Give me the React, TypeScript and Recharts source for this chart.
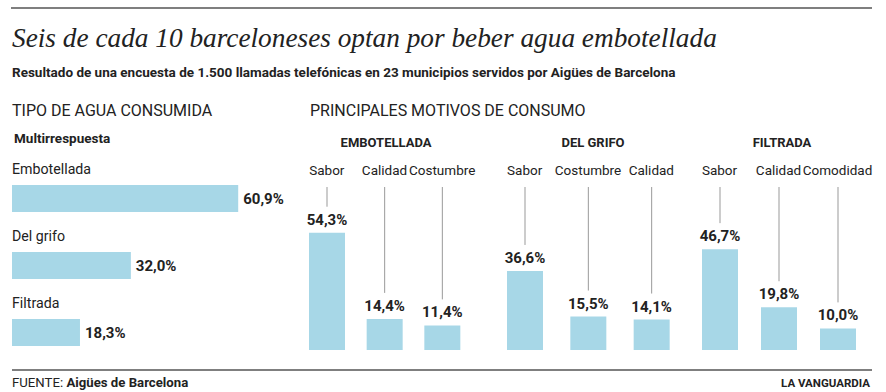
import { BarChart, Bar, XAxis, YAxis, LabelList } from 'recharts'

const TYPE_NAMES = ['Embotellada', 'Del grifo', 'Filtrada']
const TYPE_VALUES = [60.9, 32.0, 18.3]

const GROUP_TITLES = ['EMBOTELLADA', 'DEL GRIFO', 'FILTRADA']

const EMB_REASONS = ['Sabor', 'Calidad', 'Costumbre']
const EMB_VALUES = [54.3, 14.4, 11.4]

const GRIFO_REASONS = ['Sabor', 'Costumbre', 'Calidad']
const GRIFO_VALUES = [36.6, 15.5, 14.1]

const FILT_REASONS = ['Sabor', 'Calidad', 'Comodidad']
const FILT_VALUES = [46.7, 19.8, 10.0]

const SANS = "Roboto, 'Liberation Sans', sans-serif"
const SERIF = "'Liberation Serif', serif"
const INK = '#222'
const BAR = '#a7d7e7'
const fmt = (v: number) => v.toFixed(1).replace('.', ',') + '%'

const toRows = (names: string[], values: number[]) =>
  names.map((name, i) => ({ name, value: values[i] }))

// plot area of the reason charts starts 38px below the chart top
const PLOT_TOP = 38
const SIDE = 20

function ReasonChart({ names, values, left, width }: { names: string[]; values: number[]; left: number; width: number }) {
  const data = toRows(names, values)
  return (
    <div style={{ position: 'absolute', left: left - SIDE, top: 150 }}>
      <BarChart width={width + 2 * SIDE} height={200} data={data} margin={{ top: 8, right: SIDE, bottom: 0, left: SIDE }}>
        <XAxis
          dataKey="name"
          orientation="top"
          height={30}
          axisLine={false}
          tickLine={false}
          interval={0}
          tick={({ x, payload }: any) => (
            <text x={x} y={25} textAnchor="middle" fill={INK} fontSize={13.5} fontFamily={SANS}>
              {payload.value}
            </text>
          )}
        />
        <YAxis hide domain={[0, 75]} />
        <Bar dataKey="value" fill={BAR} barSize={36} isAnimationActive={false}>
          <LabelList
            dataKey="value"
            content={({ x, y, width: w, value }: any) => {
              const cx = x + w / 2
              return (
                <g>
                  <line x1={cx} x2={cx} y1={PLOT_TOP - 1} y2={y - 26} stroke="#999" strokeWidth={1} />
                  <text x={cx} y={y - 8} textAnchor="middle" fill={INK} fontSize={15} fontWeight="bold" fontFamily={SANS}>
                    {fmt(value)}
                  </text>
                </g>
              )
            }}
          />
        </Bar>
      </BarChart>
    </div>
  )
}

export default function App() {
  const typeData = toRows(TYPE_NAMES, TYPE_VALUES)

  return (
    <div style={{ position: 'absolute', left: 0, top: 0, width: 886, height: 392, background: '#fff' }}>
      <svg width={886} height={392} style={{ position: 'absolute', left: 0, top: 0 }}>
        <line x1={11} x2={872} y1={8} y2={8} stroke="#555" strokeWidth={1.5} />
        <text x={12} y={47} fontFamily={SERIF} fontStyle="italic" fontSize={27.3} fill={INK}>
          Seis de cada 10 barceloneses optan por beber agua embotellada
        </text>
        <text x={12} y={77} fontFamily={SANS} fontWeight="bold" fontSize={13.5} fill={INK}>
          Resultado de una encuesta de 1.500 llamadas telefónicas en 23 municipios servidos por Aigües de Barcelona
        </text>
        <text x={12} y={116} fontFamily={SANS} fontSize={16} fill={INK}>TIPO DE AGUA CONSUMIDA</text>
        <text x={310} y={116} fontFamily={SANS} fontSize={16} fill={INK}>PRINCIPALES MOTIVOS DE CONSUMO</text>
        <text x={14} y={143} fontFamily={SANS} fontWeight="bold" fontSize={13.5} fill={INK}>Multirrespuesta</text>
        <text x={386} y={147} textAnchor="middle" fontFamily={SANS} fontWeight="bold" fontSize={13} fill={INK}>{GROUP_TITLES[0]}</text>
        <text x={593} y={147} textAnchor="middle" fontFamily={SANS} fontWeight="bold" fontSize={13} fill={INK}>{GROUP_TITLES[1]}</text>
        <text x={782} y={147} textAnchor="middle" fontFamily={SANS} fontWeight="bold" fontSize={13} fill={INK}>{GROUP_TITLES[2]}</text>
        <line x1={12} x2={872} y1={370} y2={370} stroke="#555" strokeWidth={1.5} />
        <text x={12} y={387} fontFamily={SANS} fontSize={13.2} fill={INK}>
          FUENTE: <tspan fontWeight="bold">Aigües de Barcelona</tspan>
        </text>
        <text x={870} y={387} textAnchor="end" fontFamily={SANS} fontWeight="bold" fontSize={11.5} fill={INK}>LA VANGUARDIA</text>
      </svg>

      <div style={{ position: 'absolute', left: 0, top: 150 }}>
        <BarChart layout="vertical" width={300} height={216} data={typeData} margin={{ top: 15, right: 28, bottom: 0, left: 12 }}>
          <XAxis type="number" hide domain={[0, 70]} />
          <YAxis type="category" dataKey="name" hide />
          <Bar dataKey="value" fill={BAR} barSize={27} isAnimationActive={false}>
            <LabelList
              dataKey="name"
              content={({ x, y, value }: any) => (
                <text x={x} y={y - 11} fill={INK} fontSize={14.2} fontFamily={SANS}>{value}</text>
              )}
            />
            <LabelList
              dataKey="value"
              content={({ x, y, width: w, height: h, value }: any) => (
                <text x={x + w + 5} y={y + h / 2 + 5} fill={INK} fontSize={15} fontWeight="bold" fontFamily={SANS}>
                  {fmt(value)}
                </text>
              )}
            />
          </Bar>
        </BarChart>
      </div>

      <ReasonChart names={EMB_REASONS} values={EMB_VALUES} left={298} width={173} />
      <ReasonChart names={GRIFO_REASONS} values={GRIFO_VALUES} left={493} width={190} />
      <ReasonChart names={FILT_REASONS} values={FILT_VALUES} left={690} width={177} />
    </div>
  )
}
